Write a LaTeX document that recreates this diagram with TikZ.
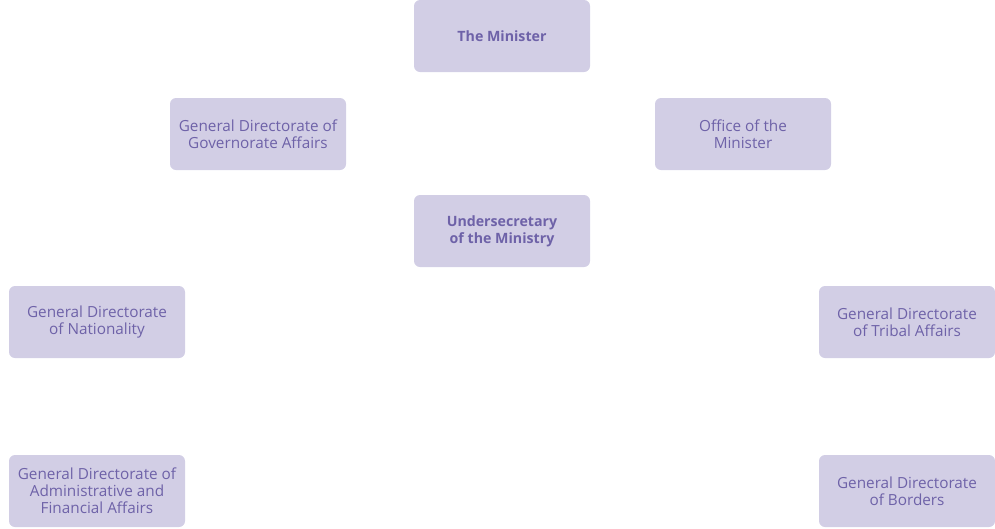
\documentclass[tikz,border=0pt]{standalone}
\usepackage{fontspec}
\setmainfont{Open Sans}
\definecolor{boxfill}{HTML}{D2CEE5}
\definecolor{boxtext}{HTML}{6E62A8}
\tikzset{
  unit/.style={fill=boxfill,text=boxtext,rounded corners=6pt,minimum width=176pt,minimum height=72pt,
    inner sep=0pt,align=center,font=\fontsize{15.3pt}{17pt}\selectfont},
  head/.style={unit,font=\fontsize{14.2pt}{17pt}\selectfont\bfseries}
}
\begin{document}
\begin{tikzpicture}[x=1pt,y=-1pt]
\useasboundingbox (0,0) rectangle (995,528);
\node[head] (minister) at (502,36) {The Minister};
\node[unit] (governorate) at (258,134) {General Directorate of\\Governorate Affairs};
\node[unit] (office) at (743,134) {Office of the\\Minister};
\node[head] (undersecretary) at (502,231) {Undersecretary\\of the Ministry};
\node[unit] (nationality) at (97,322) {General Directorate\\of Nationality};
\node[unit] (tribal) at (907,322) {General Directorate\\of Tribal Affairs};
\node[unit] (finance) at (97,491) {General Directorate of\\Administrative and\\Financial Affairs};
\node[unit] (borders) at (907,491) {General Directorate\\of Borders};
\end{tikzpicture}
\end{document}
